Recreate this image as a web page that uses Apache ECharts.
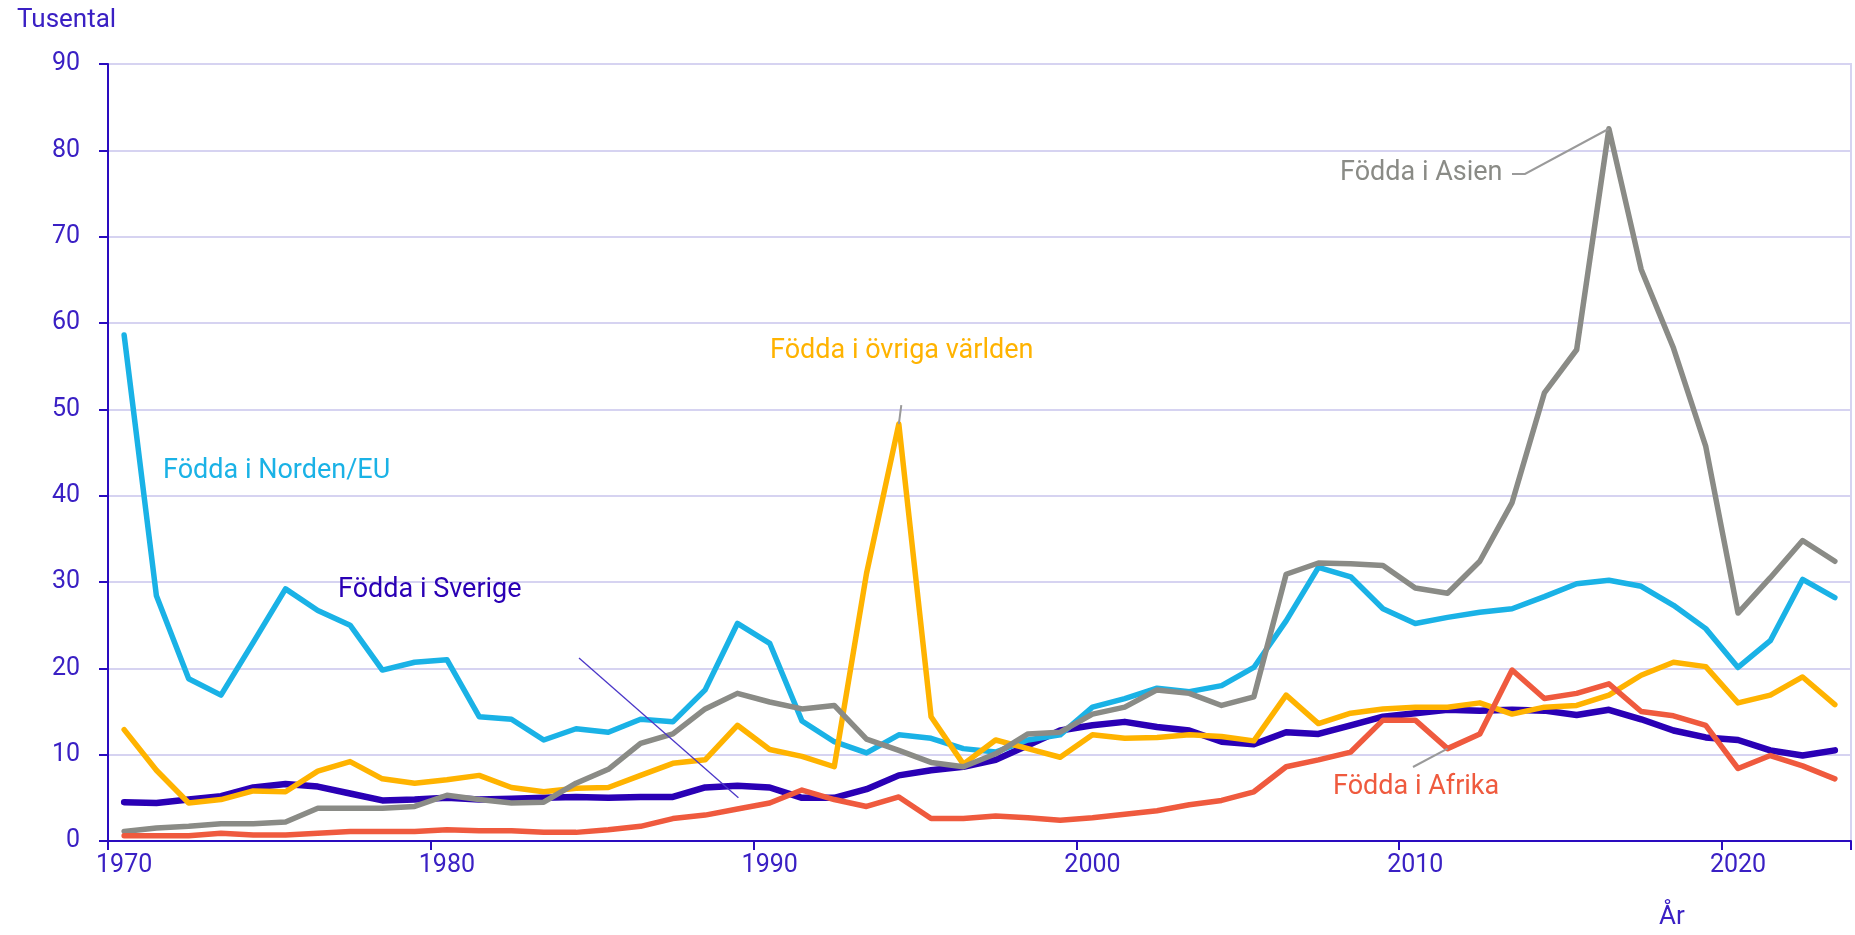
<!DOCTYPE html>
<html>
<head>
<meta charset="utf-8">
<script src="https://cdn.jsdelivr.net/npm/echarts@6/dist/echarts.min.js"></script>
<style>
html,body{margin:0;padding:0;background:#fff;}
#chart{width:1855px;height:935px;}
</style>
</head>
<body>
<div id="chart"></div>
<script>
const years = ['1970','1971','1972','1973','1974','1975','1976','1977','1978','1979',
'1980','1981','1982','1983','1984','1985','1986','1987','1988','1989',
'1990','1991','1992','1993','1994','1995','1996','1997','1998','1999',
'2000','2001','2002','2003','2004','2005','2006','2007','2008','2009',
'2010','2011','2012','2013','2014','2015','2016','2017','2018','2019',
'2020','2021','2022','2023'];

const sverige = [4.5,4.4,4.8,5.2,6.2,6.6,6.3,5.5,4.7,4.8,
5.0,4.8,4.9,5.0,5.1,5.0,5.1,5.1,6.2,6.4,
6.2,5.0,5.0,6.0,7.6,8.2,8.6,9.4,11.1,12.8,
13.4,13.8,13.2,12.8,11.5,11.2,12.6,12.4,13.4,14.4,
14.8,15.2,15.1,15.2,15.1,14.6,15.2,14.1,12.8,12.0,
11.7,10.5,9.9,10.5];

const nordenEU = [58.6,28.4,18.8,16.9,23.0,29.2,26.7,25.0,19.8,20.7,
21.0,14.4,14.1,11.7,13.0,12.6,14.1,13.8,17.5,25.2,
22.9,13.9,11.5,10.2,12.3,11.9,10.7,10.3,11.7,12.3,
15.5,16.5,17.7,17.3,18.0,20.1,25.5,31.7,30.6,26.9,
25.2,25.9,26.5,26.9,28.3,29.8,30.2,29.5,27.3,24.6,
20.1,23.2,30.3,28.2];

const ovriga = [12.9,8.2,4.4,4.8,5.8,5.7,8.1,9.2,7.2,6.7,
7.1,7.6,6.2,5.7,6.1,6.2,7.6,9.0,9.4,13.4,
10.6,9.8,8.6,31.0,48.3,14.4,8.9,11.7,10.7,9.7,
12.3,11.9,12.0,12.3,12.1,11.6,16.9,13.6,14.8,15.3,
15.5,15.5,16.0,14.7,15.5,15.7,16.9,19.2,20.7,20.2,
16.0,16.9,19.0,15.8];

const asien = [1.1,1.5,1.7,2.0,2.0,2.2,3.8,3.8,3.8,4.0,
5.3,4.8,4.4,4.5,6.7,8.3,11.3,12.4,15.3,17.1,
16.1,15.3,15.7,11.8,10.5,9.1,8.6,10.1,12.4,12.6,
14.7,15.5,17.5,17.1,15.7,16.7,30.9,32.2,32.1,31.9,
29.3,28.7,32.4,39.2,51.9,56.9,82.5,66.2,57.1,45.7,
26.4,30.5,34.8,32.4];

const afrika = [0.6,0.6,0.6,0.9,0.7,0.7,0.9,1.1,1.1,1.1,
1.3,1.2,1.2,1.0,1.0,1.3,1.7,2.6,3.0,3.7,
4.4,5.9,4.8,4.0,5.1,2.6,2.6,2.9,2.7,2.4,
2.7,3.1,3.5,4.2,4.7,5.7,8.6,9.4,10.3,14.0,
14.0,10.7,12.4,19.8,16.5,17.1,18.2,15.0,14.5,13.4,
8.4,9.9,8.7,7.2];

const seriesNames = ['Födda i Sverige','Födda i Norden/EU','Födda i övriga världen','Födda i Asien','Födda i Afrika'];
const yTitle = 'Tusental';
const xTitle = 'År';

const AXIS = '#2a0cbf';
const TXT = '#3a20c4';
const GRID = '#d6d3f1';
const C_SV = '#2a00b5';
const C_NO = '#1ab2e6';
const C_OV = '#ffb300';
const C_AS = '#8a8b86';
const C_AF = '#ef5a3e';
const FONT = 'Roboto';
const ANN = '27px ' + FONT;

const chart = echarts.init(document.getElementById('chart'), null, {renderer:'canvas'});

function line(name, data, color, width){
  return {name:name, type:'line', data:data, symbol:'none', smooth:false,
    lineStyle:{color:color, width:width, join:'round', cap:'round'}, itemStyle:{color:color},
    emphasis:{disabled:true}, silent:true, animation:false};
}

chart.setOption({
  animation:false,
  backgroundColor:'#ffffff',
  textStyle:{fontFamily:FONT},
  grid:{left:108, right:4, top:64, bottom:94, show:true, borderColor:GRID, borderWidth:2, backgroundColor:'transparent'},
  xAxis:{type:'category', data:years, boundaryGap:true,
    axisLine:{show:true, lineStyle:{color:AXIS, width:2}},
    axisTick:{show:true, interval:9, length:9, alignWithLabel:false, lineStyle:{color:AXIS, width:2}},
    axisLabel:{interval:9, color:TXT, fontSize:25, fontFamily:FONT, margin:12},
    splitLine:{show:false}},
  yAxis:{type:'value', min:0, max:90, interval:10,
    axisLine:{show:true, lineStyle:{color:AXIS, width:2}},
    axisTick:{show:true, length:9, lineStyle:{color:AXIS, width:2}},
    axisLabel:{color:TXT, fontSize:25, fontFamily:FONT, margin:28},
    splitLine:{show:true, lineStyle:{color:GRID, width:2}}},
  series:[
    line(seriesNames[0], sverige, C_SV, 6.5),
    line(seriesNames[1], nordenEU, C_NO, 5.5),
    line(seriesNames[2], ovriga, C_OV, 5.5),
    line(seriesNames[3], asien, C_AS, 5.5),
    line(seriesNames[4], afrika, C_AF, 5.5)
  ]
});

const pAs = chart.convertToPixel({seriesIndex:3}, [46, asien[46]]);
const pOv = chart.convertToPixel({seriesIndex:2}, [24, ovriga[24]]);
const pAf = chart.convertToPixel({seriesIndex:4}, [41, afrika[41]]);
const pSv = chart.convertToPixel({seriesIndex:0}, [19, sverige[19]]);

function seg(x1,y1,x2,y2,color,w){
  return {type:'line', silent:true, z:90, shape:{x1:x1,y1:y1,x2:x2,y2:y2}, style:{stroke:color, lineWidth:w}};
}

chart.setOption({graphic:[
  {type:'text', left:17, top:7, silent:true, style:{text:yTitle, fill:TXT, font:'26px ' + FONT}},
  {type:'text', left:1659, top:904, silent:true, style:{text:xTitle, fill:TXT, font:'26px ' + FONT}},
  {type:'text', left:163, top:458, silent:true, style:{text:seriesNames[1], fill:C_NO, font:ANN}},
  {type:'text', left:338, top:577, silent:true, style:{text:seriesNames[0], fill:C_SV, font:ANN}},
  {type:'text', left:770, top:338, silent:true, style:{text:seriesNames[2], fill:C_OV, font:ANN}},
  {type:'text', left:1340, top:160, silent:true, style:{text:seriesNames[3], fill:C_AS, font:ANN}},
  {type:'text', left:1333, top:774, silent:true, style:{text:seriesNames[4], fill:C_AF, font:ANN}},
  {type:'polyline', silent:true, z:90, shape:{points:[[1512,174],[1525,174],[pAs[0],pAs[1]]]}, style:{stroke:'#9a9a9a', lineWidth:2, fill:null}},
  seg(pOv[0], pOv[1], pOv[0]+2.5, pOv[1]-19, '#9a9a9a', 2),
  seg(1413, 767, pAf[0], pAf[1], '#9a9a9a', 2),
  seg(579, 658, pSv[0]+1, pSv[1]+12, '#4a36c8', 1.3)
]});
</script>
</body>
</html>
